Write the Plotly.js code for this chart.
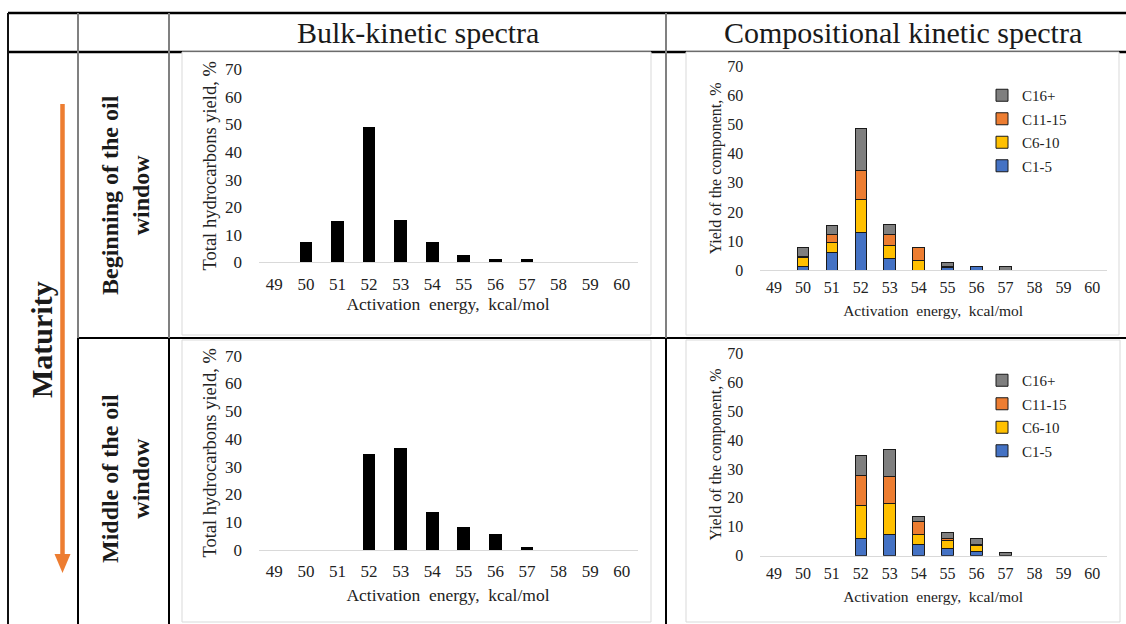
<!DOCTYPE html>
<html>
<head>
<meta charset="utf-8">
<script src="https://cdn.plot.ly/plotly-3.0.1.min.js"></script>
<style>
html,body{margin:0;padding:0;background:#fff;}
#chart{width:1126px;height:624px;}
</style>
</head>
<body>
<div id="chart"></div>
<script>
// ---------------- data ----------------
const energies = ['49','50','51','52','53','54','55','56','57','58','59','60'];
const componentNames = ['C1-5','C6-10','C11-15','C16+'];
const componentColors = ['#4472C4','#FFC000','#ED7D31','#7F7F7F'];

const bulkBeginning = [0, 7.4, 15.0, 48.9, 15.5, 7.2, 2.6, 1.1, 1.1, 0, 0, 0];
const bulkMiddle    = [0, 0, 0, 34.5, 36.7, 13.8, 8.3, 5.9, 1.0, 0, 0, 0];

const begC1_5   = [0, 1.2, 6.1, 13.0, 4.0, 0,   0.9, 1.3, 0,   0, 0, 0];
const begC6_10  = [0, 3.2, 3.5, 11.4, 4.4, 3.3, 0,   0,   0,   0, 0, 0];
const begC11_15 = [0, 0.2, 2.7,  9.8, 3.9, 4.3, 0.3, 0,   0,   0, 0, 0];
const begC16    = [0, 3.3, 3.0, 14.6, 3.5, 0,   1.5, 0,   1.2, 0, 0, 0];

const midC1_5   = [0, 0, 0, 5.8,  7.2, 3.7, 2.5, 1.4, 0,   0, 0, 0];
const midC6_10  = [0, 0, 0, 11.7, 11.0, 3.5, 2.6, 2.1, 0,  0, 0, 0];
const midC11_15 = [0, 0, 0, 10.3, 9.1, 4.6, 0.7, 0.3, 0,   0, 0, 0];
const midC16    = [0, 0, 0, 6.7,  9.5, 1.7, 2.3, 2.0, 1.0, 0, 0, 0];

const headerLabels = ['Bulk-kinetic spectra', 'Compositional kinetic spectra'];
const rowLabels = ['Beginning of the oil<br>window', 'Middle of the oil<br>window'];
const maturityLabel = 'Maturity';
const bulkYTitle = 'Total hydrocarbons yield, %';
const compYTitle = 'Yield of the component, %';
const xTitle = 'Activation  energy,  kcal/mol';

// ---------------- helpers ----------------
const W = 1126, H = 624;
const px = x => x / W;
const py = y => 1 - y / H;
const nz = arr => arr.map(v => v === 0 ? null : v);
const FONT = 'Liberation Serif, Times New Roman, serif';

const traces = [];
traces.push({type:'bar', x:energies, y:nz(bulkBeginning), xaxis:'x', yaxis:'y',
  marker:{color:'#000000'}, showlegend:false, hoverinfo:'skip'});
traces.push({type:'bar', x:energies, y:nz(bulkMiddle), xaxis:'x3', yaxis:'y3',
  marker:{color:'#000000'}, showlegend:false, hoverinfo:'skip'});

const begSets = [begC1_5, begC6_10, begC11_15, begC16];
const midSets = [midC1_5, midC6_10, midC11_15, midC16];
begSets.forEach((s,i)=>{
  traces.push({type:'bar', name:componentNames[i], x:energies, y:nz(s), xaxis:'x2', yaxis:'y2',
    marker:{color:componentColors[i], line:{color:'#1a1a1a', width:1}},
    legend:'legend', legendgroup:'a'+i, legendrank:10-i, hoverinfo:'skip'});
});
midSets.forEach((s,i)=>{
  traces.push({type:'bar', name:componentNames[i], x:energies, y:nz(s), xaxis:'x4', yaxis:'y4',
    marker:{color:componentColors[i], line:{color:'#1a1a1a', width:1}},
    legend:'legend2', legendgroup:'b'+i, legendrank:10-i, hoverinfo:'skip'});
});

function xax(x0, x1, anchor, tickSize, titleSize, tlen, standoff){
  return {domain:[px(x0), px(x1)], anchor:anchor, type:'category', categoryorder:'array',
    categoryarray:energies, range:[-0.5, 11.5], fixedrange:true,
    showline:true, linecolor:'#d9d9d9', linewidth:1, showgrid:false, zeroline:false,
    ticks:'outside', ticklen:tlen, tickcolor:'rgba(0,0,0,0)',
    tickfont:{family:FONT, size:tickSize, color:'#222'},
    title:{text:xTitle, font:{family:FONT, size:titleSize, color:'#222'}, standoff:standoff}};
}
function yax(y0, y1, anchor, title, tickSize, titleSize, standoff){
  return {domain:[py(y1), py(y0)], anchor:anchor, range:[0,70], dtick:10, tick0:0, fixedrange:true,
    showline:false, showgrid:false, zeroline:false,
    ticks:'outside', ticklen:12, tickcolor:'rgba(0,0,0,0)',
    tickfont:{family:FONT, size:tickSize, color:'#222'},
    title:{text:title, font:{family:FONT, size:titleSize, color:'#222'}, standoff:standoff}};
}

// table lines & chart boxes
const shapes = [];
function hline(x0,x1,y,color,w){shapes.push({type:'line', xref:'paper', yref:'paper', layer:'below',
  x0:px(x0), x1:px(x1), y0:py(y), y1:py(y), line:{color:color, width:w}});}
function vline(x,y0,y1,color,w){shapes.push({type:'line', xref:'paper', yref:'paper', layer:'below',
  x0:px(x), x1:px(x), y0:py(y0), y1:py(y1), line:{color:color, width:w}});}
function box(x0,y0,x1,y1){shapes.push({type:'rect', xref:'paper', yref:'paper', layer:'below',
  x0:px(x0), x1:px(x1), y0:py(y1), y1:py(y0), fillcolor:'#ffffff', line:{color:'#d9d9d9', width:1}});}

hline(8, 1126, 13, '#000', 2.5);
hline(8, 1126, 52, '#000', 2.5);
hline(78, 1126, 338, '#000', 2);
vline(8, 13, 624, '#111', 2);
vline(78, 13, 338, '#808080', 2);
vline(78, 338, 624, '#000', 2);
vline(169, 13, 338, '#808080', 2);
vline(169, 338, 624, '#000', 2);
vline(666, 13, 338, '#808080', 2);
vline(666, 338, 624, '#000', 2);
box(182, 52, 651, 335);
box(686, 52, 1119, 335);
box(182, 340, 651, 622);
box(686, 340, 1120, 622);

// orange arrow
shapes.push({type:'line', xref:'paper', yref:'paper', x0:px(62.5), x1:px(62.5), y0:py(104), y1:py(556),
  line:{color:'#ED7D31', width:4.5}});
shapes.push({type:'path', xref:'paper', yref:'paper',
  path:`M ${px(54.5)},${py(554)} L ${px(70.5)},${py(554)} L ${px(62.5)},${py(573)} Z`,
  fillcolor:'#ED7D31', line:{color:'#ED7D31', width:0}});

function ann(text, x, y, size, angle){
  return {text:text, x:px(x), y:py(y), xref:'paper', yref:'paper', showarrow:false,
    xanchor:'center', yanchor:'middle', textangle:angle||0,
    font:{family:FONT, size:size, color:'#1a1a1a'}};
}
const annotations = [
  ann(headerLabels[0], 418, 32, 30, 0),
  ann(headerLabels[1], 903, 32, 30, 0),
  ann('<b>'+maturityLabel+'</b>', 42, 340, 30, -90),
  ann('<b>'+rowLabels[0]+'</b>', 125, 195, 24, -90),
  ann('<b>'+rowLabels[1]+'</b>', 125, 479, 24, -90)
];

const legendBase = {xanchor:'left', yanchor:'top', bgcolor:'rgba(0,0,0,0)', borderwidth:0,
  traceorder:'grouped', tracegroupgap:1, itemwidth:30,
  font:{family:FONT, size:15, color:'#222'}, itemclick:false, itemdoubleclick:false};

const layout = {
  width:W, height:H, margin:{l:0, r:0, t:0, b:0},
  paper_bgcolor:'#ffffff', plot_bgcolor:'rgba(0,0,0,0)',
  barmode:'stack', bargap:0.6,
  font:{family:FONT, color:'#222'},
  xaxis: xax(258.5, 637.5, 'y', 17, 17.5, 6, 0),
  yaxis: yax(69.3, 262.3, 'x', bulkYTitle, 17, 18.5, 3),
  xaxis2: xax(759.5, 1106.8, 'y2', 16, 15.5, 3, 9),
  yaxis2: yax(66.7, 270, 'x2', compYTitle, 16, 16, 1),
  xaxis3: xax(258.5, 637.5, 'y3', 17, 17.5, 6, 8),
  yaxis3: yax(355.7, 550, 'x3', bulkYTitle, 17, 18.5, 3),
  xaxis4: xax(759.5, 1106.8, 'y4', 16, 15.5, 3, 10),
  yaxis4: yax(353.3, 555.7, 'x4', compYTitle, 16, 16, 1),
  legend: Object.assign({}, legendBase, {x:px(982), y:py(79)}),
  legend2: Object.assign({}, legendBase, {x:px(982), y:py(364)}),
  shapes:shapes, annotations:annotations
};

Plotly.newPlot('chart', traces, layout, {staticPlot:true, displayModeBar:false});
</script>
</body>
</html>
